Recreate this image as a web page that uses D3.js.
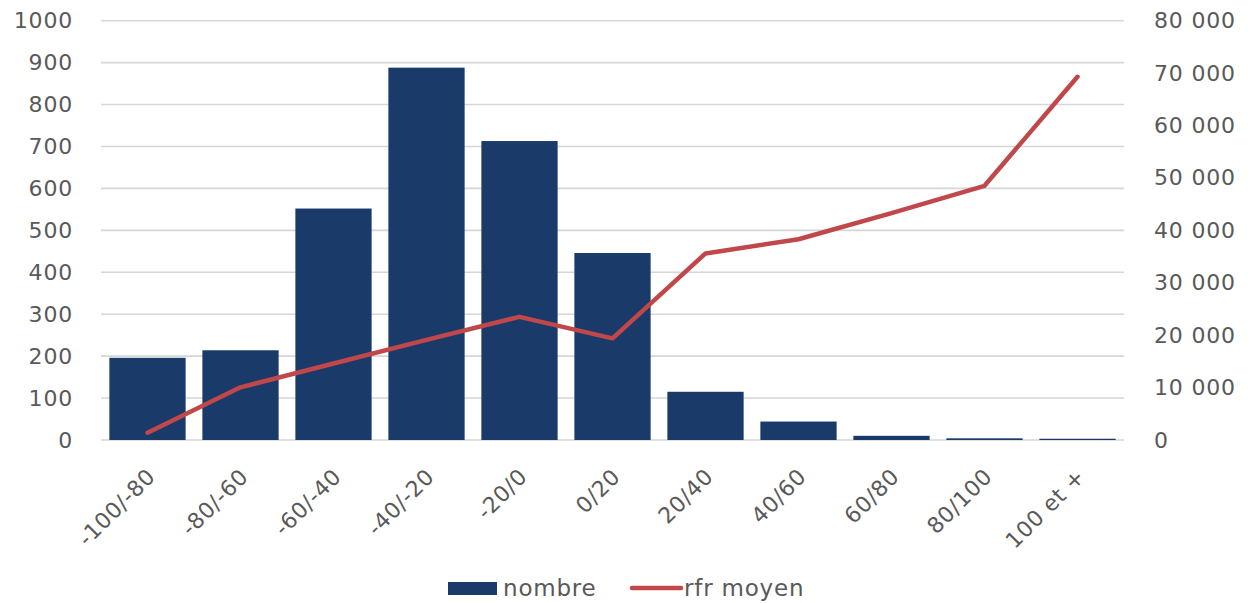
<!DOCTYPE html>
<html>
<head>
<meta charset="utf-8">
<script src="https://cdn.jsdelivr.net/npm/d3@7"></script>
<style>
  body { margin: 0; background: #fff; }
  text { font-family: "DejaVu Sans", Verdana, sans-serif; fill: #595959; }
</style>
</head>
<body>
<svg class="chart"></svg>
<script>
const categories = ["-100/-80", "-80/-60", "-60/-40", "-40/-20", "-20/0", "0/20", "20/40", "40/60", "60/80", "80/100", "100 et +"];
const nombre = [196, 214, 552, 888, 713, 446, 115, 44, 10, 4, 3];
const rfrMoyen = [1400, 10050, 14600, 19100, 23500, 19400, 35600, 38300, 43300, 48500, 69300];
const leftTicks = [0, 100, 200, 300, 400, 500, 600, 700, 800, 900, 1000];
const rightTicks = [0, 10000, 20000, 30000, 40000, 50000, 60000, 70000, 80000];

const canvas = {width: 1254, height: 603};
const margin = {top: 20.7, bottom: 163, left: 101, right: 130};
const chart_dimensions = {
    width: canvas.width - (margin.left + margin.right),
    height: canvas.height - (margin.top + margin.bottom)
};

const svg = d3.select(".chart")
    .attr("width", canvas.width)
    .attr("height", canvas.height);

const x = d3.scaleBand()
    .domain(categories)
    .range([0, chart_dimensions.width])
    .paddingInner(0.18)
    .paddingOuter(0.09);

const yLeft = d3.scaleLinear().domain([0, 1000]).range([chart_dimensions.height, 0]);
const yRight = d3.scaleLinear().domain([0, 80000]).range([chart_dimensions.height, 0]);

const chart = svg.append("g")
    .attr("transform", "translate(" + margin.left + "," + margin.top + ")");

// gridlines
chart.append("g")
    .selectAll("line")
    .data(leftTicks)
    .enter()
    .append("line")
    .attr("x1", 0)
    .attr("x2", chart_dimensions.width)
    .attr("y1", d => yLeft(d))
    .attr("y2", d => yLeft(d))
    .attr("stroke", "#d6d6d6")
    .attr("stroke-width", 1.6);

// bars
chart.append("g")
    .selectAll("rect")
    .data(categories)
    .enter()
    .append("rect")
    .attr("x", d => x(d))
    .attr("width", x.bandwidth())
    .attr("y", (d, i) => yLeft(nombre[i]))
    .attr("height", (d, i) => chart_dimensions.height - yLeft(nombre[i]))
    .attr("fill", "#1a3a6a");

// line
const line = d3.line()
    .x((d, i) => x(categories[i]) + x.bandwidth() / 2)
    .y(d => yRight(d));

chart.append("path")
    .datum(rfrMoyen)
    .attr("d", line)
    .attr("fill", "none")
    .attr("stroke", "#c0474a")
    .attr("stroke-width", 4.5)
    .attr("stroke-linecap", "round")
    .attr("stroke-linejoin", "round");

// left axis
const yAxisLeft = d3.axisLeft(yLeft).tickValues(leftTicks).tickSize(0).tickPadding(28).tickFormat(d3.format("d"));
chart.append("g")
    .call(yAxisLeft)
    .call(g => g.select(".domain").remove())
    .selectAll("text")
    .style("font-size", "22px")
    .style("letter-spacing", "0.8px")
    .attr("fill", "#595959");

// right axis
const fmt = d => d3.format(",")(d).replace(/,/g, "\u00a0");
const yAxisRight = d3.axisRight(yRight).tickValues(rightTicks).tickSize(0).tickPadding(30).tickFormat(fmt);
chart.append("g")
    .attr("transform", "translate(" + chart_dimensions.width + ",0)")
    .call(yAxisRight)
    .call(g => g.select(".domain").remove())
    .selectAll("text")
    .style("font-size", "22px")
    .style("letter-spacing", "0.8px")
    .attr("fill", "#595959");

// x labels
chart.append("g")
    .selectAll("text")
    .data(categories)
    .enter()
    .append("text")
    .attr("transform", d => "translate(" + (x(d) + x.bandwidth() / 2 - 2) + "," + (chart_dimensions.height + 27) + ") rotate(-45)")
    .attr("text-anchor", "end")
    .attr("dy", "0.71em")
    .style("font-size", "22px")
    .style("letter-spacing", "0.6px")
    .text(d => d);

// legend
const legend = svg.append("g");
legend.append("rect")
    .attr("x", 448).attr("y", 582).attr("width", 49).attr("height", 13)
    .attr("fill", "#1a3a6a");
legend.append("text")
    .attr("x", 503).attr("y", 596)
    .style("font-size", "23px")
    .style("letter-spacing", "0.8px")
    .text("nombre");
legend.append("line")
    .attr("x1", 632).attr("x2", 681).attr("y1", 588).attr("y2", 588)
    .attr("stroke", "#c0474a").attr("stroke-width", 4.5).attr("stroke-linecap", "round");
legend.append("text")
    .attr("x", 684).attr("y", 596)
    .style("font-size", "23px")
    .style("letter-spacing", "0.8px")
    .text("rfr moyen");
</script>
</body>
</html>
